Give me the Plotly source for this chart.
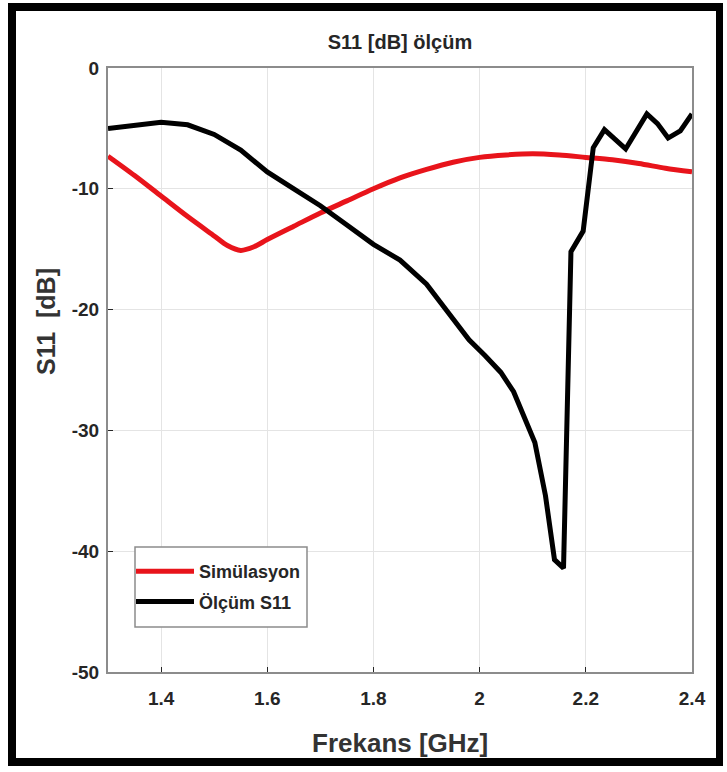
import plotly.graph_objects as go

# Simulation curve (GHz, dB)
sim_freq = [1.30, 1.35, 1.40, 1.45, 1.50, 1.525, 1.55, 1.575, 1.60, 1.65, 1.70, 1.75, 1.80,
            1.85, 1.90, 1.95, 2.00, 2.05, 2.10, 2.15, 2.20, 2.25, 2.30, 2.35, 2.40]
sim_db = [-7.3, -8.9, -10.6, -12.3, -13.9, -14.7, -15.1, -14.8, -14.2, -13.1, -12.0, -11.0,
          -10.0, -9.1, -8.4, -7.8, -7.4, -7.2, -7.1, -7.2, -7.4, -7.6, -7.9, -8.3, -8.6]

# Measured curve (GHz, dB)
meas_freq = [1.30, 1.35, 1.40, 1.45, 1.50, 1.55, 1.60, 1.65, 1.70, 1.75, 1.80, 1.85, 1.90,
             1.94, 1.98, 2.01, 2.04, 2.064, 2.078, 2.104, 2.124, 2.141, 2.158, 2.172,
             2.195, 2.214, 2.235, 2.275, 2.315, 2.335, 2.355, 2.378, 2.40]
meas_db = [-5.0, -4.7, -4.5, -4.7, -5.5, -6.8, -8.6, -10.0, -11.4, -13.0, -14.6, -15.9, -17.9,
           -20.2, -22.5, -23.8, -25.2, -26.8, -28.2, -31.0, -35.4, -40.7, -41.4, -15.2,
           -13.5, -6.6, -5.1, -6.7, -3.8, -4.6, -5.8, -5.2, -3.8]

x_ticks = [1.4, 1.6, 1.8, 2.0, 2.2, 2.4]
x_tick_text = ["1.4", "1.6", "1.8", "2", "2.2", "2.4"]
y_ticks = [0, -10, -20, -30, -40, -50]
y_tick_text = ["0", "-10", "-20", "-30", "-40", "-50"]

FONT = "Liberation Sans, Arial, Helvetica"
TXT = "#262626"

W, H = 727, 772
ML, MR, MT, MB = 108, 35, 68, 100
PW, PH = W - ML - MR, H - MT - MB


def px(x):
    return (x - ML) / PW


def py(y):
    return (H - MB - y) / PH


fig = go.Figure()
fig.add_trace(go.Scatter(x=sim_freq, y=sim_db, mode="lines", name="Simülasyon",
                         legendgroup="a",
                         line=dict(color="#e8141b", width=5, shape="spline", smoothing=0.8)))
fig.add_trace(go.Scatter(x=meas_freq, y=meas_db, mode="lines", name="Ölçüm S11",
                         legendgroup="b",
                         line=dict(color="#000000", width=5)))

axis_common = dict(showline=True, linecolor="#8c8c8c", linewidth=2, mirror=True,
                   showgrid=True, gridcolor="#e4e4e4", gridwidth=1,
                   ticks="inside", ticklen=5, tickcolor="#262626", zeroline=False,
                   tickfont=dict(family=FONT, size=19, color=TXT, weight="bold"))

fig.update_xaxes(range=[1.3, 2.4], tickvals=x_ticks, ticktext=x_tick_text,
                 ticklabelstandoff=8, **axis_common)
fig.update_yaxes(range=[-50, 0], tickvals=y_ticks, ticktext=y_tick_text,
                 ticklabelstandoff=3, **axis_common)

shapes = [
    # outer black frame
    dict(type="rect", xref="paper", yref="paper", x0=px(8), x1=px(16), y0=py(766), y1=py(3),
         fillcolor="black", line=dict(width=0), layer="above"),
    dict(type="rect", xref="paper", yref="paper", x0=px(716), x1=px(723), y0=py(766), y1=py(3),
         fillcolor="black", line=dict(width=0), layer="above"),
    dict(type="rect", xref="paper", yref="paper", x0=px(8), x1=px(723), y0=py(11), y1=py(3),
         fillcolor="black", line=dict(width=0), layer="above"),
    dict(type="rect", xref="paper", yref="paper", x0=px(8), x1=px(723), y0=py(766), y1=py(758),
         fillcolor="black", line=dict(width=0), layer="above"),
    # legend box
    dict(type="rect", xref="paper", yref="paper", x0=px(135), x1=px(307), y0=py(627), y1=py(547),
         fillcolor="white", line=dict(color="#8c8c8c", width=1.5), layer="above"),
]

annotations = [
    dict(text="Frekans [GHz]", xref="paper", yref="paper", x=px(ML + PW / 2), y=py(743),
         xanchor="center", yanchor="middle", showarrow=False,
         font=dict(family=FONT, size=26, color="#333333", weight="bold")),
    dict(text="S11\u00a0\u00a0[dB]", xref="paper", yref="paper", x=px(46), y=py(322),
         xanchor="center", yanchor="middle", showarrow=False, textangle=-90,
         font=dict(family=FONT, size=25, color="#333333", weight="bold")),
]

fig.update_layout(
    width=W, height=H,
    margin=dict(l=ML, r=MR, t=MT, b=MB),
    paper_bgcolor="white", plot_bgcolor="white",
    title=dict(text="S11 [dB] ölçüm", x=(ML + PW / 2) / W, xanchor="center", y=1 - 42 / H,
               yanchor="middle", font=dict(family=FONT, size=20, color=TXT, weight="bold")),
    legend=dict(x=px(131), y=py(553), xanchor="left", yanchor="top",
                bgcolor="rgba(0,0,0,0)", borderwidth=0,
                font=dict(family=FONT, size=18, color=TXT, weight="bold"),
                itemwidth=58, tracegroupgap=4),
    shapes=shapes,
    annotations=annotations,
    showlegend=True,
)

fig.write_html("out.html", config={"displayModeBar": False},
               post_script="document.body.style.margin='0';")
